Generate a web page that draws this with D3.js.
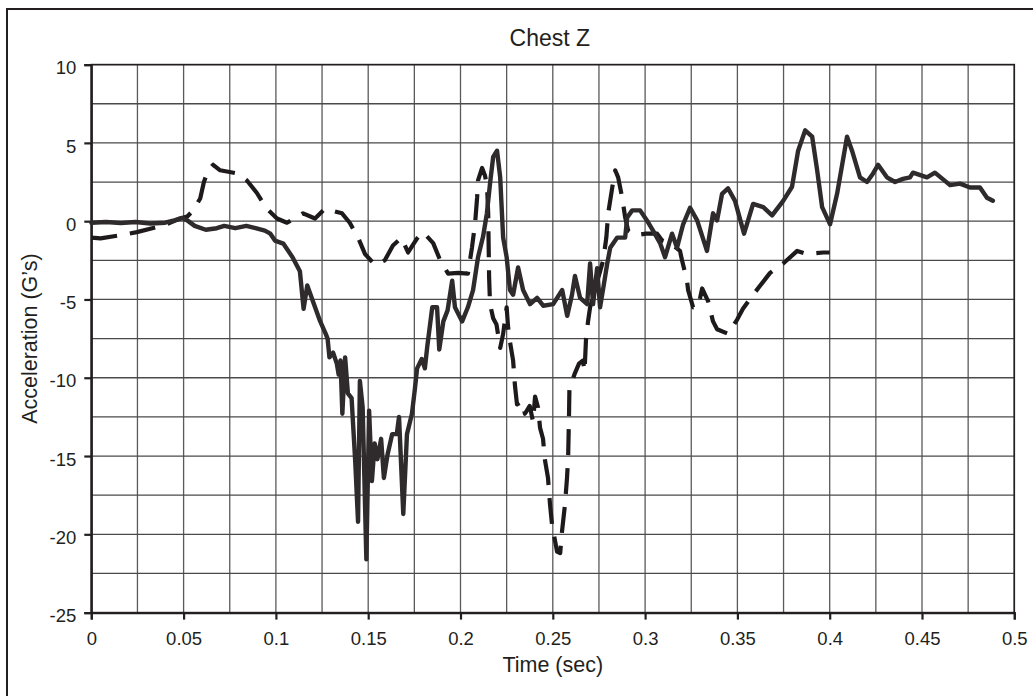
<!DOCTYPE html>
<html><head><meta charset="utf-8">
<script src="https://cdn.jsdelivr.net/npm/d3@7"></script>
<style>
html,body{margin:0;padding:0;background:#fff;}
svg{display:block;font-family:"Liberation Sans",Arial,sans-serif;}
</style></head>
<body><svg id="c" width="1033" height="696"></svg>
<script>
const title = "Chest Z";
const xLabel = "Time (sec)";
const yLabel = "Acceleration (G\u2019s)";
const xTicks = [0,0.05,0.1,0.15,0.2,0.25,0.3,0.35,0.4,0.45,0.5];
const xTickLabels = ["0","0.05","0.1","0.15","0.2","0.25","0.3","0.35","0.4","0.45","0.5"];
const yTicks = [10,5,0,-5,-10,-15,-20,-25];
const yTickLabels = ["10","5","0","-5","-10","-15","-20","-25"];
const xGrid = d3.range(0,0.5001,0.025);
const yGrid = d3.range(-25,10.001,2.5);

const solidT = [0,0.008,0.016,0.024,0.032,0.04,0.045,0.049,0.052,0.056,0.062,0.068,0.072,0.078,0.084,0.089,0.094,0.097,0.0995,0.104,0.109,0.113,0.115,0.117,0.120,0.124,0.127,0.128,0.129,0.131,0.133,0.134,0.135,0.136,0.1375,0.139,0.141,0.143,0.1445,0.1455,0.147,0.149,0.1505,0.152,0.1535,0.155,0.157,0.1585,0.1605,0.163,0.1655,0.1667,0.169,0.171,0.1737,0.1753,0.1765,0.179,0.1807,0.182,0.1847,0.1873,0.1885,0.1907,0.193,0.1955,0.197,0.2009,0.204,0.2068,0.2095,0.2122,0.2143,0.216,0.2177,0.2198,0.2215,0.2231,0.225,0.2268,0.2285,0.2312,0.2339,0.2377,0.2415,0.2448,0.2502,0.2551,0.2578,0.2604,0.262,0.2648,0.2686,0.2702,0.2718,0.274,0.2756,0.2773,0.2795,0.2811,0.2849,0.2892,0.2903,0.293,0.2973,0.301,0.3043,0.3081,0.3108,0.3146,0.3173,0.3206,0.3244,0.3282,0.3335,0.3368,0.339,0.3417,0.3449,0.3487,0.3536,0.3585,0.364,0.3688,0.3748,0.3796,0.3829,0.3867,0.3905,0.3932,0.3959,0.4002,0.404,0.4094,0.4121,0.4164,0.4202,0.4235,0.4262,0.431,0.4354,0.4397,0.4435,0.4451,0.4527,0.457,0.4652,0.4706,0.476,0.4814,0.4852,0.4884];
const solidG = [-0.1,-0.05,-0.12,-0.05,-0.15,-0.1,0.05,0.2,0.05,-0.3,-0.55,-0.45,-0.3,-0.45,-0.3,-0.45,-0.6,-0.8,-1.24,-1.43,-2.3,-3.2,-5.6,-4.1,-5.1,-6.4,-7.2,-7.5,-8.7,-8.4,-9.1,-9.8,-8.9,-12.3,-8.7,-11.0,-11.3,-15.4,-19.2,-10.2,-11.9,-21.6,-12.1,-16.6,-14.2,-15.2,-13.9,-16.4,-14.9,-13.6,-13.6,-12.5,-18.7,-13.6,-12.3,-10.7,-9.4,-8.8,-9.4,-8.0,-5.5,-5.5,-8.2,-6.4,-5.7,-3.8,-5.5,-6.4,-5.5,-4.4,-2.3,-1.0,0.5,2.4,4.1,4.5,2.8,-1.05,-2.3,-4.4,-4.7,-2.96,-4.4,-5.3,-4.9,-5.4,-5.3,-4.4,-6.05,-4.7,-3.5,-4.9,-5.3,-2.7,-5.3,-3.0,-5.5,-4.3,-2.7,-1.7,-1.05,-1.05,0.24,0.69,0.69,0.05,-0.6,-1.4,-2.3,-0.8,-1.7,-0.2,0.86,0.05,-1.9,0.5,0.05,1.75,2.1,1.3,-0.8,1.1,0.9,0.37,1.3,2.2,4.5,5.8,5.4,3.25,0.9,-0.2,1.75,5.4,4.5,2.8,2.5,3.05,3.6,2.8,2.5,2.7,2.8,3.1,2.8,3.1,2.3,2.4,2.15,2.15,1.5,1.3];

const dashT = [0,0.005,0.0156,0.0247,0.039,0.048,0.052,0.0552,0.059,0.061,0.0633,0.066,0.0698,0.079,0.0843,0.0897,0.095,0.1006,0.106,0.1147,0.1212,0.1266,0.1358,0.14,0.1445,0.1483,0.1537,0.159,0.1634,0.168,0.1716,0.1765,0.1797,0.1852,0.189,0.1933,0.1987,0.204,0.2062,0.2079,0.209,0.2095,0.2117,0.2133,0.2144,0.215,0.2155,0.216,0.2177,0.2195,0.2215,0.2231,0.225,0.2258,0.2268,0.2285,0.2295,0.2306,0.2333,0.2349,0.2375,0.2393,0.2404,0.242,0.2431,0.2447,0.2458,0.2474,0.2485,0.2496,0.2523,0.254,0.255,0.2566,0.2577,0.2583,0.2588,0.259,0.262,0.2642,0.2664,0.2672,0.268,0.2691,0.2702,0.2773,0.279,0.28,0.2822,0.2838,0.2854,0.2876,0.2892,0.2908,0.2946,0.3005,0.3065,0.3092,0.3135,0.3189,0.32,0.3227,0.3233,0.326,0.3287,0.3309,0.3341,0.3368,0.339,0.345,0.3498,0.353,0.3585,0.3677,0.3748,0.3824,0.3878,0.3965,0.4];
const dashG = [-1.05,-1.1,-0.9,-0.7,-0.28,0.17,0.3,0.69,1.45,2.5,3.25,3.6,3.25,3.05,2.6,1.8,0.8,0.17,-0.1,0.5,0.17,0.8,0.5,-0.1,-1.05,-2.1,-2.8,-2.5,-1.55,-1.05,-2.0,-1.1,-0.7,-1.4,-2.5,-3.35,-3.3,-3.35,-1.7,-0.15,1.5,2.6,3.4,2.9,2.2,0.5,-3.6,-5.3,-6.2,-6.6,-8.1,-7.2,-5.5,-6.8,-7.7,-8.9,-10.5,-11.7,-11.5,-12.3,-11.8,-12.8,-11.2,-11.9,-13.2,-13.9,-15.3,-16.4,-18.1,-19.4,-21.1,-21.2,-19.8,-18.1,-16.4,-15.1,-12.3,-10.7,-9.7,-9.1,-8.9,-9.6,-7.5,-6.4,-5.5,-2.5,-1.05,0.5,2.15,3.25,2.8,1.5,0.24,-0.6,-0.9,-0.8,-0.8,-1.24,-1.4,-1.9,-2.5,-3.8,-4.4,-5.5,-5.5,-4.3,-5.1,-6.4,-6.9,-7.2,-6.3,-5.6,-4.7,-3.3,-2.7,-1.9,-2.1,-2.0,-2.0];

const svg = d3.select("#c");
const L = 91.3, R = 1014.3, T = 64.6, B = 612.6;
const x = d3.scaleLinear().domain([0,0.5]).range([L,R]);
const y = d3.scaleLinear().domain([-25,10]).range([B,T]);
const FONT = "'Liberation Sans',Arial,sans-serif";

// outer frame (only left/top visible)
svg.append("rect").attr("x",7).attr("y",9).attr("width",1100).attr("height",800)
  .attr("fill","none").attr("stroke","#231f20").attr("stroke-width",2);

// grid
const g = svg.append("g");
g.selectAll(".vg").data(xGrid).join("line")
  .attr("x1",d=>x(d)).attr("x2",d=>x(d)).attr("y1",T).attr("y2",B)
  .attr("stroke","#5a5a5a").attr("stroke-width",1.3);
g.selectAll(".hg").data(yGrid).join("line")
  .attr("x1",L).attr("x2",R).attr("y1",d=>y(d)).attr("y2",d=>y(d))
  .attr("stroke","#4a4a4a").attr("stroke-width",1.3);
// plot border
svg.append("rect").attr("x",L).attr("y",T).attr("width",R-L).attr("height",B-T)
  .attr("fill","none").attr("stroke","#231f20").attr("stroke-width",1.6);

// axes
const xa = svg.append("g").attr("transform",`translate(0,${B})`)
  .call(d3.axisBottom(x).tickValues(xTicks).tickFormat((d,i)=>xTickLabels[i]).tickSize(7).tickPadding(12));
const ya = svg.append("g").attr("transform",`translate(${L},0)`)
  .call(d3.axisLeft(y).tickValues(yTicks).tickFormat((d,i)=>yTickLabels[i]).tickSize(7).tickPadding(8));
[xa,ya].forEach(a=>{
  a.attr("font-size",null).attr("font-family",null);
  a.select(".domain").attr("stroke","#231f20").attr("stroke-width",2.2);
  a.selectAll(".tick line").attr("stroke","#231f20").attr("stroke-width",2.2);
  a.selectAll(".tick text").attr("fill","#231f20")
    .style("font-size","18.5px").style("font-family",FONT);
});
ya.selectAll(".tick text").attr("dy","0.5em");

// data lines
const solid = solidT.map((t,i)=>[t,solidG[i]]);
const dashed = dashT.map((t,i)=>[t,dashG[i]]);
const line = d3.line().x(d=>x(d[0])).y(d=>y(d[1]));

svg.append("path").attr("d",line(dashed)).attr("fill","none")
  .attr("stroke","#1e1a1b").attr("stroke-width",4.2)
  .attr("stroke-dasharray","26,13").attr("stroke-linejoin","round");
svg.append("path").attr("d",line(solid)).attr("fill","none")
  .attr("stroke","#2f2b2c").attr("stroke-width",4.4)
  .attr("stroke-linejoin","round").attr("stroke-linecap","round");

// titles
svg.append("text").attr("x",(L+R)/2-3).attr("y",46).attr("text-anchor","middle")
  .style("font-size","23px").style("font-family",FONT).attr("fill","#231f20").text(title);
svg.append("text").attr("x",(L+R)/2+0).attr("y",672).attr("text-anchor","middle")
  .style("font-size","21.5px").style("font-family",FONT).attr("fill","#231f20").text(xLabel);
svg.append("text").attr("transform",`translate(37,${(T+B)/2}) rotate(-90)`)
  .attr("text-anchor","middle").style("font-size","21.5px").style("font-family",FONT)
  .attr("fill","#231f20").text(yLabel);
</script></body></html>
